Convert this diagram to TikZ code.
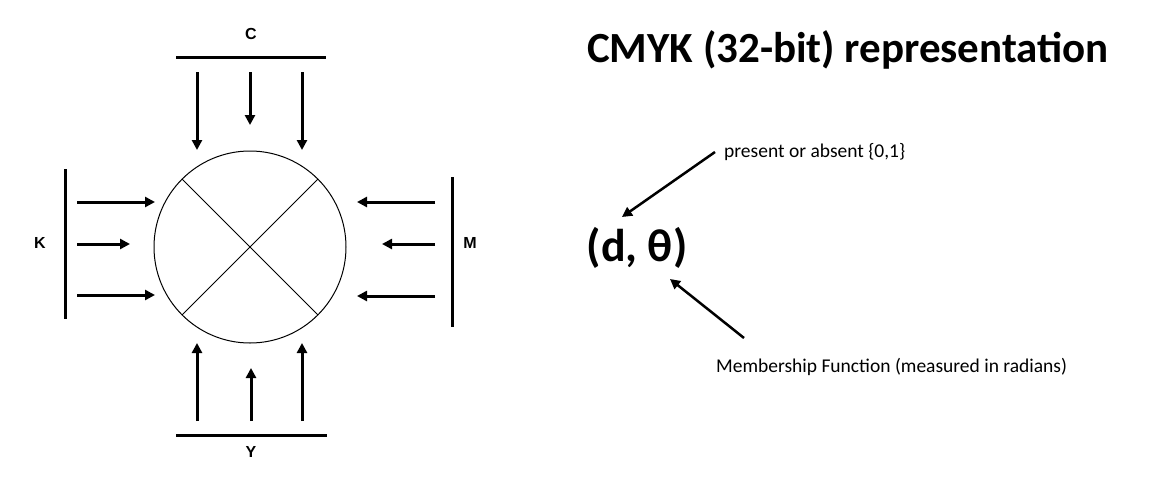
\documentclass[tikz,border=0pt]{standalone}
\usepackage{fontspec}
\setmainfont{Carlito}
\newfontfamily\labelfont{Liberation Sans}
\usepackage{tikz}
\usetikzlibrary{arrows.meta, positioning}
\tikzstyle{mixer} = [circle, draw=black, line width=1pt, minimum size=192pt, inner sep=0pt]
\tikzstyle{bar} = [line width=3pt]
\tikzstyle{arrow} = [line width=3pt,->,>={Triangle[length=10pt,width=10pt]}]
\tikzstyle{pointer} = [line width=2.5pt,->,>={Triangle[length=10pt,width=10pt]}]
\tikzstyle{chan} = [font=\labelfont\bfseries\fontsize{16}{18}\selectfont]

\begin{document}
\begin{tikzpicture}[x=1pt, y=-1pt]
        \useasboundingbox (0,0) rectangle (1152,480);
        % colour wheel
        \node (mix) [mixer] at (250,247) {};
        \draw [line width=1pt] (mix.45) -- (mix.225);
        \draw [line width=1pt] (mix.135) -- (mix.-45);
        % channel bars
        \draw [bar] (176,57) -- (326,57);
        \draw [bar] (176,435) -- (327,435);
        \draw [bar] (65,169) -- (65,319);
        \draw [bar] (452,177) -- (452,327);
        \node (c) [chan] at (251,34) {C};
        \node (y) [chan] at (251,452) {Y};
        \node (k) [chan] at (40,243) {K};
        \node (m) [chan] at (470,243) {M};
        % C arrows
        \coordinate (c1) at (197,72);  \coordinate (c1e) at (197,150);
        \coordinate (c2) at (250,72);  \coordinate (c2e) at (250,125);
        \coordinate (c3) at (302,72);  \coordinate (c3e) at (302,150);
        \draw [arrow] (c1) -- (c1e);
        \draw [arrow] (c2) -- (c2e);
        \draw [arrow] (c3) -- (c3e);
        % Y arrows
        \coordinate (y1) at (197,421); \coordinate (y1e) at (197,343);
        \coordinate (y2) at (251,421); \coordinate (y2e) at (251,368);
        \coordinate (y3) at (302,421); \coordinate (y3e) at (302,343);
        \draw [arrow] (y1) -- (y1e);
        \draw [arrow] (y2) -- (y2e);
        \draw [arrow] (y3) -- (y3e);
        % K arrows
        \coordinate (k1) at (77,202);  \coordinate (k1e) at (155,202);
        \coordinate (k2) at (77,244);  \coordinate (k2e) at (130,244);
        \coordinate (k3) at (77,295);  \coordinate (k3e) at (155,295);
        \draw [arrow] (k1) -- (k1e);
        \draw [arrow] (k2) -- (k2e);
        \draw [arrow] (k3) -- (k3e);
        % M arrows
        \coordinate (m1) at (435,202); \coordinate (m1e) at (357,202);
        \coordinate (m2) at (435,244); \coordinate (m2e) at (382,244);
        \coordinate (m3) at (435,296); \coordinate (m3e) at (357,296);
        \draw [arrow] (m1) -- (m1e);
        \draw [arrow] (m2) -- (m2e);
        \draw [arrow] (m3) -- (m3e);
        % right side
        \node (title) at (848,50) {\bfseries\fontsize{43}{48}\selectfont CMYK (32-bit) representation};
        \node (pair) at (637,248) {\bfseries\fontsize{46}{50}\selectfont (d, θ)};
        \node (pres) [anchor=west, inner sep=0pt] at (724,152) {\fontsize{19.5}{22}\selectfont present or absent \{0,1\}};
        \node (memb) [anchor=west, inner sep=0pt] at (716,367) {\fontsize{19.5}{22}\selectfont Membership Function (measured in radians)};
        \coordinate (p1) at (715,152); \coordinate (p1e) at (622,217);
        \coordinate (p2) at (744,338); \coordinate (p2e) at (670,279);
        \draw [pointer] (p1) -- (p1e);
        \draw [pointer] (p2) -- (p2e);
\end{tikzpicture}
\end{document}
